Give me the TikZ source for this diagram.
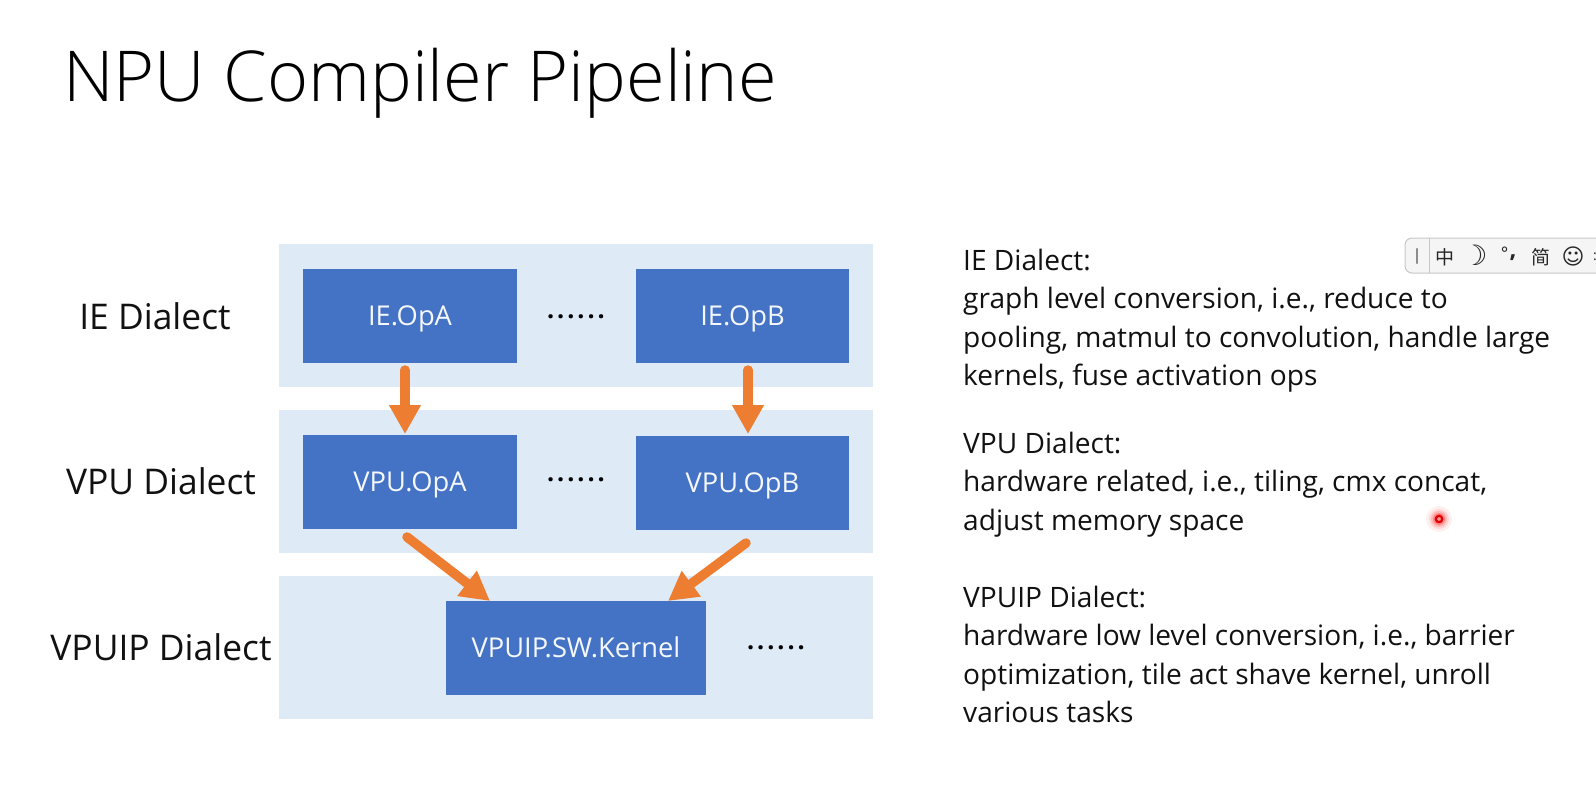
\documentclass[tikz,border=0pt]{standalone}
\usepackage{fontspec}
\setmainfont{Open Sans}
\newfontfamily\lightf{Open Sans Light}
\newfontfamily\cjkf{Noto Sans CJK SC}
\newfontfamily\symf{DejaVu Sans}
\newfontfamily\dotf[LetterSpace=12]{Open Sans Bold}
\usetikzlibrary{arrows.meta}
\definecolor{bandc}{HTML}{DEEAF6}
\definecolor{boxc}{HTML}{4472C4}
\definecolor{arrc}{HTML}{ED7D31}
\definecolor{inkc}{HTML}{111111}
\tikzset{
  band/.style={fill=bandc,draw=none,minimum width=594pt,minimum height=143pt,anchor=north west,inner sep=0pt},
  opbox/.style={fill=boxc,draw=none,text=white!94!boxc,inner sep=0pt,text height=23pt,text depth=3.5pt,font=\fontsize{27.3}{30}\selectfont},
  dial/.style={text=inkc,font=\fontsize{35.4}{40}\selectfont,inner sep=0pt},
  dotsl/.style={text=black,font=\fontsize{25}{30}\dotf,inner sep=0pt},
  para/.style={text=inkc,anchor=north west,align=left,inner sep=0pt,font=\fontsize{28.1}{38.6}\selectfont},
  flow/.style={draw=arrc,line width=9.5pt,line cap=round,-{Triangle[width=30pt,length=29pt]}},
  ime/.style={inner sep=0pt,text=black!85}
}
\begin{document}
\begin{tikzpicture}[x=1pt,y=-1pt]
\useasboundingbox (0,0) rectangle (1596,795);
\fill[white] (0,0) rectangle (1596,795);
\node[anchor=west,inner sep=0pt,text=black,font=\fontsize{70.2}{80}\lightf] (title) at (63,83) {NPU Compiler Pipeline};
% bands
\node[band] (b1) at (279,244) {};
\node[band] (b2) at (279,410) {};
\node[band] (b3) at (279,576) {};
% labels
\node[dial] (l1) at (155,316) {IE Dialect};
\node[dial] (l2) at (161,481) {VPU Dialect};
\node[dial] (l3) at (161,647) {VPUIP Dialect};
% boxes
\node[opbox,minimum width=214pt,minimum height=94pt] (ia) at (410,316) {IE.OpA};
\node[opbox,minimum width=213pt,minimum height=94pt] (ib) at (742.5,316) {IE.OpB};
\node[opbox,minimum width=214pt,minimum height=94pt] (va) at (410,482) {VPU.OpA};
\node[opbox,minimum width=213pt,minimum height=94pt] (vb) at (742.5,482.5) {VPU.OpB};
\node[opbox,minimum width=260pt,minimum height=94pt] (k) at (576,648) {VPUIP.SW.Kernel};
% dots
\node[dotsl] (d1) at (576,317) {......};
\node[dotsl] (d2) at (576,480) {......};
\node[dotsl] (d3) at (776,648) {......};
% arrows
\coordinate (a1s) at (405,370);
\coordinate (a1e) at (405,434);
\coordinate (a2s) at (748,370);
\coordinate (a2e) at (748,434);
\coordinate (a3s) at (407,537);
\coordinate (a3e) at (490,601);
\coordinate (a4s) at (746,543);
\coordinate (a4e) at (668,601);
\draw[flow] (a1s) -- (a1e);
\draw[flow] (a2s) -- (a2e);
\draw[flow] (a3s) -- (a3e);
\draw[flow] (a4s) -- (a4e);
% paragraphs
\node[para] (p1) at (963,248.5) {IE Dialect:\\graph level conversion, i.e., reduce to\\pooling, matmul to convolution, handle large\\kernels, fuse activation ops};
\node[para] (p2) at (963,431.5) {VPU Dialect:\\hardware related, i.e., tiling, cmx concat,\\adjust memory space};
\node[para] (p3) at (963,585.5) {VPUIP Dialect:\\hardware low level conversion, i.e., barrier\\optimization, tile act shave kernel, unroll\\various tasks};
% IME toolbar
\draw[draw=black!22,fill=black!4,line width=1pt,rounded corners=7pt] (1405,238) rectangle (1620,273);
\draw[black!22,line width=1pt] (1429,238) -- (1429,273);
\draw[black!45,line width=2.5pt,line cap=round] (1417,249) -- (1417,263);
\node[ime,font=\fontsize{19}{22}\cjkf] (i1) at (1445,257) {中};
\node[ime,font=\fontsize{28}{30}\symf] (i2) at (1475,255) {☽};
\node[ime,font=\fontsize{19}{22}\cjkf] (i3) at (1505,254) {°};
\node[ime,font=\fontsize{24}{26}\bfseries] (i3b) at (1513,258) {,};
\node[ime,font=\fontsize{19}{22}\cjkf] (i4) at (1541,257) {简};
\node[ime,font=\fontsize{22}{24}\symf] (i5) at (1573,256) {☺};
\node[ime,font=\fontsize{14}{16}\selectfont] (i6) at (1595,257) {:};
% pointer
\foreach \r/\o in {13/0.06,10/0.1,8/0.15,6/0.25}{\fill[red,opacity=\o] (1439,519) circle (\r pt);}
\draw[red!90!black,fill=white!60!red,line width=2.2pt] (1439,519) circle (3.2pt);
\end{tikzpicture}
\end{document}
